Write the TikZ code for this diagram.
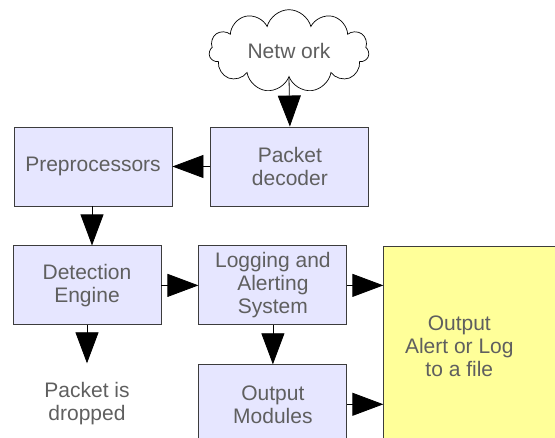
\documentclass[tikz,border=0pt]{standalone}
\usepackage{fontspec}
\setmainfont{Liberation Sans}
\usetikzlibrary{positioning,arrows.meta,shapes.symbols}

\definecolor{boxfill}{HTML}{E6E6FF}
\definecolor{outfill}{HTML}{FFFF99}
\definecolor{txtgrey}{HTML}{5F5F5F}
\definecolor{edgegrey}{HTML}{3C3C3C}

\begin{document}
\begin{tikzpicture}[
  x=1pt, y=1pt,
  >={Triangle[length=31pt,width=23pt]},
  every node/.style={font=\fontsize{21}{23}\selectfont, text=txtgrey, align=center},
  box/.style={draw=edgegrey, line width=0.9pt, fill=boxfill, minimum width=158pt, minimum height=79pt, inner sep=0pt},
  arrow/.style={->, line width=0.8pt}
]
\useasboundingbox (0,0) rectangle (555,438);

% Red
\node[draw, cloud, cloud puffs=11, aspect=2.2, fill=white, line width=0.7pt,
  minimum width=160pt, minimum height=72pt] (net) at (289,387) {Netw ork};

% Bloques superiores
\node[box] (prep) at (93,271.5) {Preprocessors};
\node[box, right=38pt of prep] (dec) {Packet\\decoder};

% Bloques del medio
\node[box, minimum width=148pt, anchor=north west] (det) at ([xshift=-1pt, yshift=-39pt]prep.south west) {Detection\\Engine};
\node[box, minimum width=148pt, right=37pt of det] (log) {Logging and\\Alerting\\System};
\node[box, minimum width=148pt, below=39pt of log] (mod) {Output\\Modules};

% Salida (amarilla, se corta por la derecha)
\node[draw=edgegrey, line width=0.9pt, fill=outfill, minimum width=185pt, minimum height=198pt,
  anchor=north west] (out) at ([xshift=36pt, yshift=-1pt]log.north east) {};
\node (outtxt) at ([xshift=-17pt]out.center) {Output\\Alert or Log\\to a file};

% Paquete descartado
\node[inner ysep=19pt, below=38pt of det] (drop) {Packet is\\dropped};

% Flechas
\draw[arrow] (net.south) -- (dec.north);
\draw[arrow] (dec) -- (prep);
\draw[arrow] ([xshift=-1pt]prep.south) -- ([xshift=-1pt]prep.south |- det.north);
\draw[arrow] (det) -- (log);
\draw[arrow] (det.south) -- (drop.north);
\draw[arrow] (log) -- (mod);
\draw[arrow] (log.east) -- (log.east -| out.west);
\draw[arrow] (mod.east) -- (mod.east -| out.west);

\end{tikzpicture}
\end{document}
